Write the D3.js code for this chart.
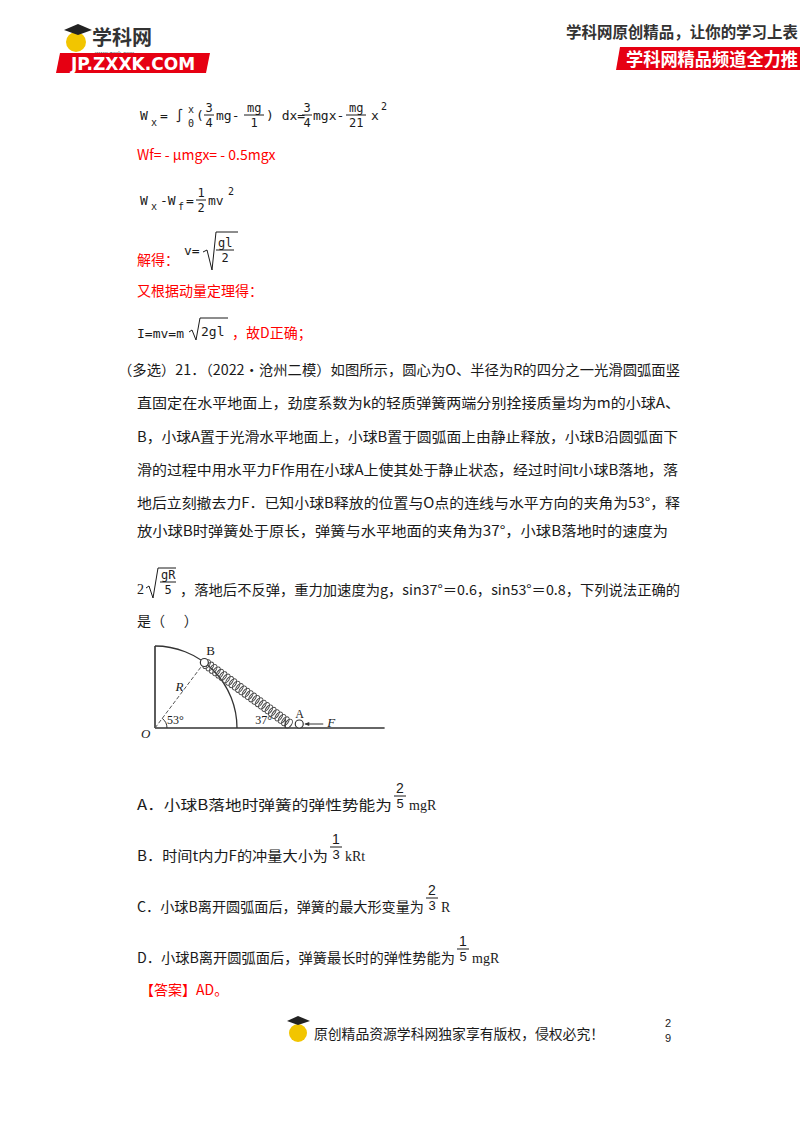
<!DOCTYPE html>
<html><head><meta charset="utf-8">
<script src="https://cdn.jsdelivr.net/npm/d3@7"></script>
<style>body{margin:0;background:#fff} text{white-space:pre}</style>
</head><body><svg id="page"></svg>
<script>
const RED = "#ff0000", INK = "#1a1a1a";
const CJK = "'Noto Sans CJK SC', sans-serif", SERIF = "'Liberation Serif', serif";

// text rows of the page: [y, x, text, colour]
const solutionRows = [
  [160, 137, "Wf= - μmgx= - 0.5mgx", RED],
  [265, 137, "解得：", RED],
  [296, 137, "又根据动量定理得：", RED]
];
const questionLines = [
  "（多选）21．（2022•沧州二模）如图所示，圆心为O、半径为R的四分之一光滑圆弧面竖",
  "直固定在水平地面上，劲度系数为k的轻质弹簧两端分别拴接质量均为m的小球A、",
  "B，小球A置于光滑水平地面上，小球B置于圆弧面上由静止释放，小球B沿圆弧面下",
  "滑的过程中用水平力F作用在小球A上使其处于静止状态，经过时间t小球B落地，落",
  "地后立刻撤去力F．已知小球B释放的位置与O点的连线与水平方向的夹角为53°，释",
  "放小球B时弹簧处于原长，弹簧与水平地面的夹角为37°，小球B落地时的速度为"
];
const questionY = [375, 408, 442, 475, 508, 536];
const questionEnd = [680, 680, 678, 678, 680, 668];
const options = ["A．小球B落地时弹簧的弹性势能为", "B．时间t内力F的冲量大小为", "C．小球B离开圆弧面后，弹簧的最大形变量为", "D．小球B离开圆弧面后，弹簧最长时的弹性势能为"];
const optionEnd = [392, 328, 424, 455];
const optionNum = ["2", "1", "2", "1"];
const optionDen = ["5", "3", "3", "5"];
const optionTail = ["mgR", "kRt", "R", "mgR"];
const optionY = [810, 861, 912, 963];
// diagram, in units of R
const angleB = 53, angleSpring = 37, groundLen = 2.8, coils = 26;

const svg = d3.select("#page").attr("width", 800).attr("height", 1132);
const T = (x, y, s, o = {}) => {
  const t = svg.append("text").attr("x", x).attr("y", y)
    .attr("fill", o.fill || INK).style("font-family", o.font || CJK)
    .style("font-size", (o.size || 14) + "px").style("font-weight", o.weight || 400)
    .attr("text-anchor", o.anchor || "start").text(s);
  if (o.len) t.attr("textLength", o.len).attr("lengthAdjust", "spacingAndGlyphs");
  return t;
};

// header
svg.append("circle").attr("cx", 76).attr("cy", 42).attr("r", 10).attr("fill", "#f2c500");
svg.append("path").attr("d", "M64,30 L78,24 L92,30 L78,35 Z").attr("fill", "#222");
T(92, 45, "学科网", {size: 20, weight: 700, fill: "#333"});
T(95, 55, "www.zxxk.com", {size: 6, fill: "#444", font: "Arial"});
svg.append("path").attr("d", "M60,53 L210,53 L206,73 L56,73 Z").attr("fill", "#e60012");
T(133, 70, "JP.ZXXK.COM", {size: 17, weight: 700, fill: "#fff", font: "'DejaVu Sans'", anchor: "middle"});
T(566, 38, "学科网原创精品，让你的学习上表", {size: 16, fill: "#333", weight: 700, len: 232});
svg.append("path").attr("d", "M620,47 L800,47 L800,70 L616,70 Z").attr("fill", "#e60012");
T(626, 66, "学科网精品频道全力推", {size: 18, weight: 700, fill: "#fff", len: 172});

// formulas (black)
const F = (x, y, s, size = 13) => T(x, y, s, {font: "'DejaVu Sans Mono', monospace", size});
function frac(x, yBar, n, d, w = 10, size = 12) {
  F(x + w / 2 - 3.5 * n.length, yBar - 3, n, size); F(x + w / 2 - 3.5 * d.length, yBar + 12, d, size);
  svg.append("line").attr("x1", x).attr("x2", x + w).attr("y1", yBar).attr("y2", yBar).attr("stroke", INK);
}
F(140, 120, "W"); F(151, 126, "x", 10); F(160, 120, "= ∫"); F(188, 113, "x", 10); F(188, 127, "0", 10);
F(196, 120, "("); frac(204, 115, "3", "4"); F(216, 120, "mg-"); frac(244, 115, "mg", "1", 20);
F(266, 120, ") dx="); frac(302, 115, "3", "4"); F(313, 120, "mgx-"); frac(346, 115, "mg", "21", 20); F(371, 120, "x"); F(381, 110, "2", 10);
F(140, 205, "W"); F(151, 210, "x", 10); F(160, 205, "-W"); F(178, 210, "f", 10); F(186, 205, "=");
frac(196, 200, "1", "2"); F(208, 205, "mv"); F(228, 195, "2", 10);
F(184, 255, "v="); svg.append("path").attr("d", "M203,252 L207,250 L212,270 L216,232 L238,232").attr("fill", "none").attr("stroke", INK);
frac(216, 250, "gl", "2", 18);
F(137, 338, "I=mv=m"); svg.append("path").attr("d", "M189,332 L192,330 L196,340 L200,318 L228,318").attr("fill", "none").attr("stroke", INK);
F(201, 336, "2gl");
T(232, 338, "，故D正确；", {fill: RED});
solutionRows.forEach(([y, x, s, c]) => T(x, y, s, {fill: c}));

// question
questionLines.forEach((s, i) => { const x0 = i ? 137 : 118; T(x0, questionY[i], s, {len: questionEnd[i] - x0}); });
T(137, 594, "2", {font: SERIF}); svg.append("path").attr("d", "M146,588 L149,586 L153,598 L158,568 L176,568").attr("fill", "none").attr("stroke", INK);
frac(160, 582, "gR", "5", 16);
T(180, 595, "，落地后不反弹，重力加速度为g，sin37°＝0.6，sin53°＝0.8，下列说法正确的", {len: 500});
T(137, 626, "是（      ）");

// diagram
const ox = 155, oy = 728, Rpx = 82;
const sx = d3.scaleLinear().domain([0, 1]).range([ox, ox + Rpx]);
const sy = d3.scaleLinear().domain([0, 1]).range([oy, oy - Rpx]);
const rad = a => a * Math.PI / 180;
const B = [Math.cos(rad(angleB)), Math.sin(rad(angleB))];
const A = [B[0] + B[1] / Math.tan(rad(angleSpring)), 0.03];
const st = {stroke: "#333", "stroke-width": 1.6, fill: "none"};
const draw = (el, attrs) => { const e = svg.append(el); Object.entries(attrs).forEach(([k, v]) => e.attr(k, v)); return e; };
draw("line", {x1: sx(0), y1: sy(0), x2: sx(groundLen), y2: sy(0), ...st});
draw("line", {x1: sx(0), y1: sy(0), x2: sx(0), y2: sy(1), ...st});
draw("path", {d: d3.arc()({innerRadius: Rpx, outerRadius: Rpx, startAngle: 0, endAngle: Math.PI / 2}), transform: `translate(${ox},${oy})`, ...st, "stroke-width": 1.3});
draw("line", {x1: sx(0), y1: sy(0), x2: sx(B[0]), y2: sy(B[1]), stroke: "#555", "stroke-dasharray": "4,2"});
const ang = Math.atan2(sy(A[1]) - sy(B[1]), sx(A[0]) - sx(B[0])) * 180 / Math.PI;
d3.range(coils).forEach(i => {
  const t = (i + 0.7) / (coils + 0.5);
  const cx = sx(B[0] + (A[0] - B[0]) * t), cy = sy(B[1] + (A[1] - B[1]) * t);
  draw("ellipse", {cx, cy, rx: 3, ry: 5, transform: `rotate(${ang},${cx},${cy})`, fill: "none", stroke: "#444", "stroke-width": 1});
});
draw("circle", {cx: sx(B[0]), cy: sy(B[1]), r: 4, fill: "#fff", stroke: "#333", "stroke-width": 1.2});
draw("circle", {cx: sx(A[0]) + 8, cy: sy(0) - 4, r: 4, fill: "#fff", stroke: "#333", "stroke-width": 1.2});
draw("line", {x1: sx(A[0]) + 14, y1: sy(0) - 4, x2: sx(A[0]) + 32, y2: sy(0) - 4, stroke: "#333"});
draw("path", {d: `M${sx(A[0]) + 13},${sy(0) - 4} l5,-2 l0,4 z`, fill: "#333"});
draw("path", {d: `M${ox + 12},${oy} A12,12 0 0 0 ${ox + 12 * B[0]},${oy - 12 * B[1]}`, ...st, "stroke-width": 1});
draw("line", {x1: sx(A[0]) - 6, y1: sy(0), x2: sx(A[0]) - 6, y2: sy(0) - 9, stroke: "#333"});
T(sx(B[0]) + 2, sy(B[1]) - 8, "B", {font: SERIF, size: 13});
T(sx(A[0]) + 4, sy(0) - 10, "A", {font: SERIF, size: 12});
T(sx(A[0]) + 36, sy(0) - 1, "F", {font: SERIF, size: 13}).style("font-style", "italic");
T(sx(0.25), sy(0.45), "R", {font: SERIF, size: 13}).style("font-style", "italic");
T(ox + 12, oy - 4, "53°", {font: SERIF, size: 12});
T(sx(A[0]) - 36, oy - 4, "37°", {font: SERIF, size: 12});
T(ox - 14, oy + 10, "O", {font: SERIF, size: 13}).style("font-style", "italic");

// options
options.forEach((s, i) => {
  const y = optionY[i];
  T(137, y, s, {len: optionEnd[i] - 137});
  const x = optionEnd[i] + 2;
  T(x + 6, y - 17, optionNum[i], {font: "Arial", size: 14, anchor: "middle"});
  T(x + 6, y - 2, optionDen[i], {font: "Arial", size: 13, anchor: "middle"});
  svg.append("line").attr("x1", x).attr("x2", x + 12).attr("y1", y - 14).attr("y2", y - 14).attr("stroke", INK);
  T(x + 15, y, optionTail[i], {font: SERIF, size: 14});
});
T(140, 995, "【答案】AD。", {fill: RED});

// footer
svg.append("circle").attr("cx", 298).attr("cy", 1033).attr("r", 9).attr("fill", "#f2c500");
svg.append("path").attr("d", "M287,1021 L298,1016 L310,1021 L298,1025 Z").attr("fill", "#222");
T(314, 1039, "原创精品资源学科网独家享有版权，侵权必究！", {size: 14, len: 290});
T(665, 1027, "2", {font: "Arial", size: 11}); T(665, 1042, "9", {font: "Arial", size: 11});
</script></body></html>
